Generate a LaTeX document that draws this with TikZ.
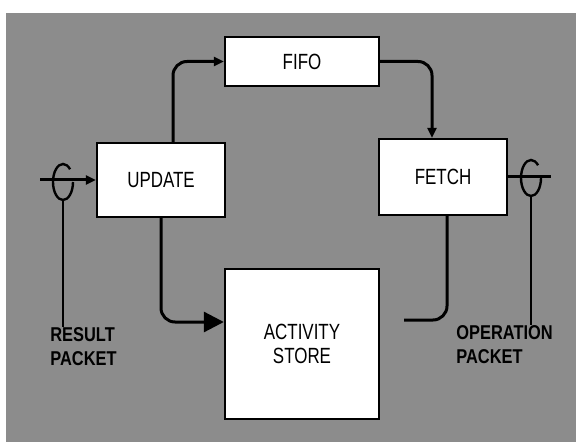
\documentclass[tikz,border=0pt]{standalone}
\usepackage{fontspec}
\usetikzlibrary{arrows.meta}
\newfontfamily\boxfont[FakeStretch=0.77]{Liberation Sans}
\newfontfamily\lblfont[FakeStretch=0.82]{Liberation Sans}

\begin{document}
\begin{tikzpicture}[x=0.5pt, y=-0.5pt, >={Triangle[length=5pt,width=4.5pt]},
	unit/.style={draw, line width=1.2pt, fill=white, align=center, inner sep=0pt,
		font=\boxfont\fontsize{11}{12}\selectfont},
	flow/.style={line width=1.5pt, rounded corners=7pt},
	tag/.style={anchor=north west, align=left, inner sep=0pt,
		font=\lblfont\bfseries\fontsize{10}{12}\selectfont}]
				% 背景
				\useasboundingbox (0,0) rectangle (576,442);
				\fill[black!45] (6,13) rectangle (576,442);
				
				% 方框
				\node[unit, minimum width=77pt, minimum height=24.5pt] (fifo) at (302,61.5) {FIFO};
				\node[unit, minimum width=64pt, minimum height=37pt] (upd) at (161,180) {UPDATE};
				\node[unit, minimum width=64pt, minimum height=38pt] (fetch) at (443,177) {FETCH};
				\node[unit, minimum width=77pt, minimum height=75pt] (act) at (302,344) {ACTIVITY\\STORE};
				
				% 数据流
				\draw[flow, ->] ([xshift=6pt]upd.north) |- (fifo.west);
				\draw[flow, ->] (fifo.east) -| ([xshift=-5.5pt]fetch.north);
				\draw[flow, -{Triangle[length=10pt,width=10pt]}] (upd.south) |- ([yshift=11pt]act.west);
				\draw[flow] ([xshift=12pt,yshift=12pt]act.east) -| ([xshift=2pt]fetch.south);
				
				% 输入与输出
				\coordinate (resin) at (40,180);
				\coordinate (opout) at (551,177);
				\draw[line width=1.5pt, ->] (resin) -- (upd.west);
				\draw[line width=1.5pt] (fetch.east) -- (opout);
				
				% 包标注
				\coordinate (resring) at (63,182);
				\coordinate (opring) at (531,178);
				\draw[line width=1.2pt] ([shift={(45:5pt and 9pt)}]resring) arc[start angle=45, end angle=360, x radius=5pt, y radius=9pt];
				\draw[line width=1.2pt] ([shift={(45:5pt and 9pt)}]opring) arc[start angle=45, end angle=360, x radius=5pt, y radius=9pt];
				\node[tag] (reslbl) at (50,327) {RESULT\\PACKET};
				\node[tag] (oplbl) at (456,325) {OPERATION\\PACKET};
				\draw[line width=1pt] ([yshift=-9pt]resring) -- (resring |- reslbl.north);
				\draw[line width=1pt] ([yshift=-9pt]opring) -- (opring |- oplbl.north);
			\end{tikzpicture}
\end{document}
